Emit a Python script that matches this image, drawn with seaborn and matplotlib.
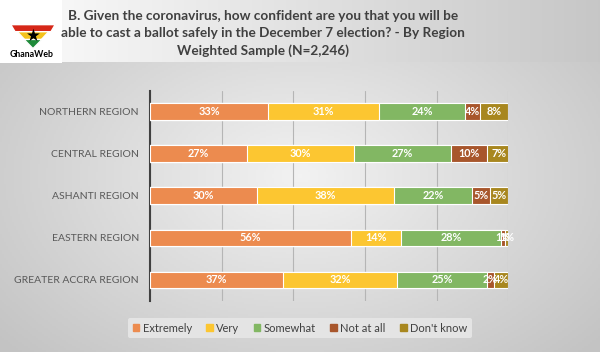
import numpy as np
import pandas as pd
import matplotlib
matplotlib.use("Agg")
import matplotlib.pyplot as plt
import seaborn as sns

# data
regions = ["NORTHERN REGION", "CENTRAL REGION", "ASHANTI REGION",
           "EASTERN REGION", "GREATER ACCRA REGION"]
answers = ["Extremely", "Very", "Somewhat", "Not at all", "Don't know"]
extremely = [33, 27, 30, 56, 37]
very = [31, 30, 38, 14, 32]
somewhat = [24, 27, 22, 28, 25]
not_at_all = [4, 10, 5, 1, 2]
dont_know = [8, 7, 5, 1, 4]
colors = ["#EC8B4F", "#FCC631", "#82B763", "#A8562C", "#A8871F"]

title = ("B. Given the coronavirus, how confident are you that you will be\n"
         "able to cast a ballot safely in the December 7 election? - By Region\n"
         "Weighted Sample (N=2,246)")


def main():
    sns.set_theme(style="white")
    plt.rcParams["font.family"] = ["Lato", "DejaVu Sans"]

    df = pd.DataFrame({"region": regions, "Extremely": extremely, "Very": very,
                       "Somewhat": somewhat, "Not at all": not_at_all,
                       "Don't know": dont_know})
    cum = df[answers].cumsum(axis=1)

    fig = plt.figure(figsize=(6, 3.52), dpi=100)

    # background gradient
    bg = fig.add_axes([0, 0, 1, 1], zorder=-10)
    xx, yy = np.meshgrid(np.linspace(-1, 1, 300), np.linspace(-1, 1, 176))
    r = np.clip(np.sqrt(xx ** 2 + (yy * 0.9) ** 2), 0, 1.3)
    shade = 0.95 - 0.14 * r
    band = np.linspace(0.99, 0.78, 300)
    img = np.repeat(shade[:, :, None], 3, axis=2)
    top_rows = int(176 * 63 / 352)
    img[:top_rows] = np.repeat(band[None, :, None], 3, axis=2)[0][None, :, :].repeat(top_rows, axis=0)
    bg.imshow(img, aspect="auto", extent=[0, 1, 0, 1], origin="upper")
    bg.axis("off")

    # logo
    fig.patches.append(plt.Rectangle((0.0, 0.822), 0.103, 0.178, transform=fig.transFigure,
                                     facecolor="white", edgecolor="none", zorder=1))
    fig.patches.append(plt.Polygon([[0.018, 0.93], [0.092, 0.93], [0.055, 0.862]],
                                   transform=fig.transFigure, facecolor="#F4C21B", zorder=2))
    fig.patches.append(plt.Polygon([[0.018, 0.93], [0.092, 0.93], [0.085, 0.91], [0.025, 0.91]],
                                   transform=fig.transFigure, facecolor="#D62718", zorder=3))
    fig.patches.append(plt.Polygon([[0.04, 0.888], [0.07, 0.888], [0.055, 0.862]],
                                   transform=fig.transFigure, facecolor="#1E8B3A", zorder=3))
    fig.text(0.055, 0.897, "\u2605", ha="center", va="center", fontsize=12,
             color="black", family=["DejaVu Sans"], zorder=4)
    fig.text(0.052, 0.845, "GhanaWeb", ha="center", va="center", fontsize=6.3,
             fontweight="bold", color="black", zorder=4)

    fig.text(0.438, 0.905, title, ha="center", va="center", fontsize=9.8,
             fontweight="bold", color="#404040", linespacing=1.5)

    ax = fig.add_axes([0.25, 0.145, 0.597, 0.597])
    ax.set_facecolor("none")

    # stacked bars: draw cumulative totals from the back
    for i in range(len(answers) - 1, -1, -1):
        sns.barplot(x=cum[answers[i]], y=df["region"], orient="h", color=colors[i],
                    saturation=1, width=0.4, edgecolor="white", linewidth=0.8,
                    ax=ax, zorder=3)

    for j, reg in enumerate(regions):
        for i, a in enumerate(answers):
            v = df.loc[j, a]
            ax.text(cum.loc[j, a] - v / 2, j, f"{v}%", ha="center", va="center",
                    fontsize=7.8, fontweight="bold", color="white", zorder=5)

    ax.set_xlim(0, 100)
    ax.set_xticks([0, 20, 40, 60, 80, 100])
    ax.set_xticklabels([])
    ax.grid(axis="x", color="#b5b5b5", linewidth=0.8, zorder=0)
    ax.set_axisbelow(True)
    ax.set_xlabel("")
    ax.set_ylabel("")
    ax.tick_params(axis="y", length=0, labelsize=7.5, labelcolor="#595959", pad=8)
    ax.tick_params(axis="x", length=0)
    for s in ["top", "right", "bottom"]:
        ax.spines[s].set_visible(False)
    ax.spines["left"].set_color("#404040")
    ax.spines["left"].set_linewidth(1.5)

    handles = [plt.Rectangle((0, 0), 1, 1, color=c) for c in colors]
    leg = fig.legend(handles, answers, loc="center", bbox_to_anchor=(0.5, 0.068), ncol=5,
                     frameon=True, fontsize=8, handlelength=0.6, handleheight=0.6,
                     handletextpad=0.3, columnspacing=1.3, borderpad=0.4)
    leg.get_frame().set_facecolor("#e4e4e4")
    leg.get_frame().set_edgecolor("none")
    leg.get_frame().set_alpha(1)
    for t in leg.get_texts():
        t.set_color("#404040")

    fig.savefig("out.png", dpi=100)


if __name__ == "__main__":
    main()
